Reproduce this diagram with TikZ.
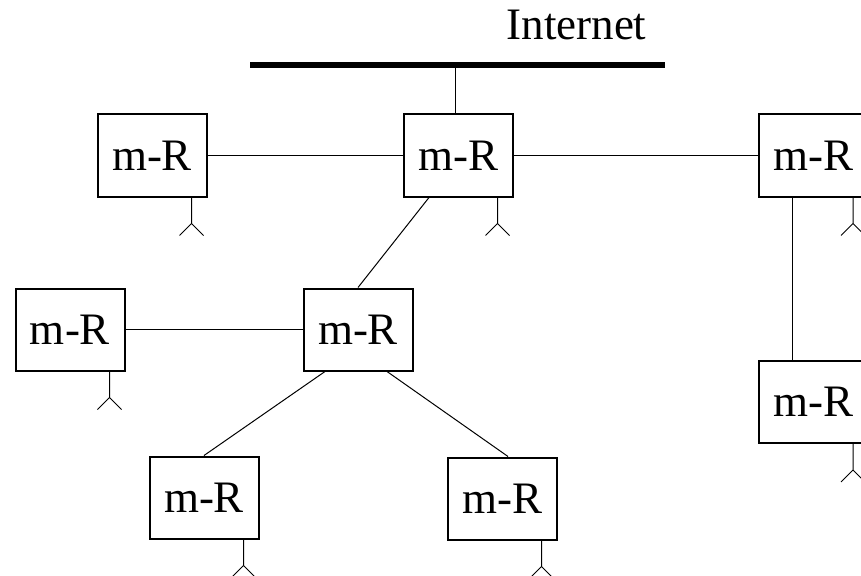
\documentclass[tikz,border=0pt]{standalone}
\usepackage{fontspec}
\setmainfont{Liberation Serif}
\tikzset{
  router/.style={draw, line width=2pt, minimum width=109pt, minimum height=82pt, inner sep=0pt, font=\fontsize{45}{54}\selectfont},
  link/.style={line width=1pt}
}
\begin{document}
\begin{tikzpicture}[x=1pt,y=-1pt]
    \useasboundingbox (0,0) rectangle (861,575);
    \clip (0,0) rectangle (861,575);
        % Nodi
        \node[anchor=base, font=\fontsize{45}{54}\selectfont] (I) at (576.5,40) {Internet};
        \coordinate (I1) at (250,65);
        \coordinate (I2) at (665,65);
        \node[router] (R1) at (152,155.5) {m-R};
        \node[router] (R2) at (458,155.5) {m-R};
        \node[router] (R3) at (813.5,155.5) {m-R};
        \node[router] (R4) at (70,329.5) {m-R};
        \node[router] (R5) at (358,329.5) {m-R};
        \node[router] (R6) at (813.5,402) {m-R};
        \node[router] (R7) at (204,497.5) {m-R};
        \node[router] (R8) at (502,498.5) {m-R};

        % Archi
        \draw[line width=6pt] (I1) -- (I2); % dorsale
        \draw[link] ([xshift=-3pt]R2.north) -- ([xshift=-3pt]R2.north |- I1);
        \draw[link] (R1) -- (R2);
        \draw[link] (R2) -- (R3);
        \draw[link] ([xshift=-29pt]R2.south) -- (R5.north);
        \draw[link] (R4) -- (R5);
        \draw[link] ([xshift=-33pt]R5.south) -- (R7.north);
        \draw[link] ([xshift=29pt]R5.south) -- ([xshift=6pt]R8.north);
        \draw[link] ([xshift=-21.5pt]R3.south) -- ([xshift=-21.5pt]R6.north);

        % Antenne
        \foreach \r in {R1,R2,R3,R4,R6,R7,R8}
            \draw[link] ([xshift=-16pt]\r.south east) -- ++(0,26) -- ++(-12,12) ++(12,-12) -- ++(12,12);
    \end{tikzpicture}
\end{document}
